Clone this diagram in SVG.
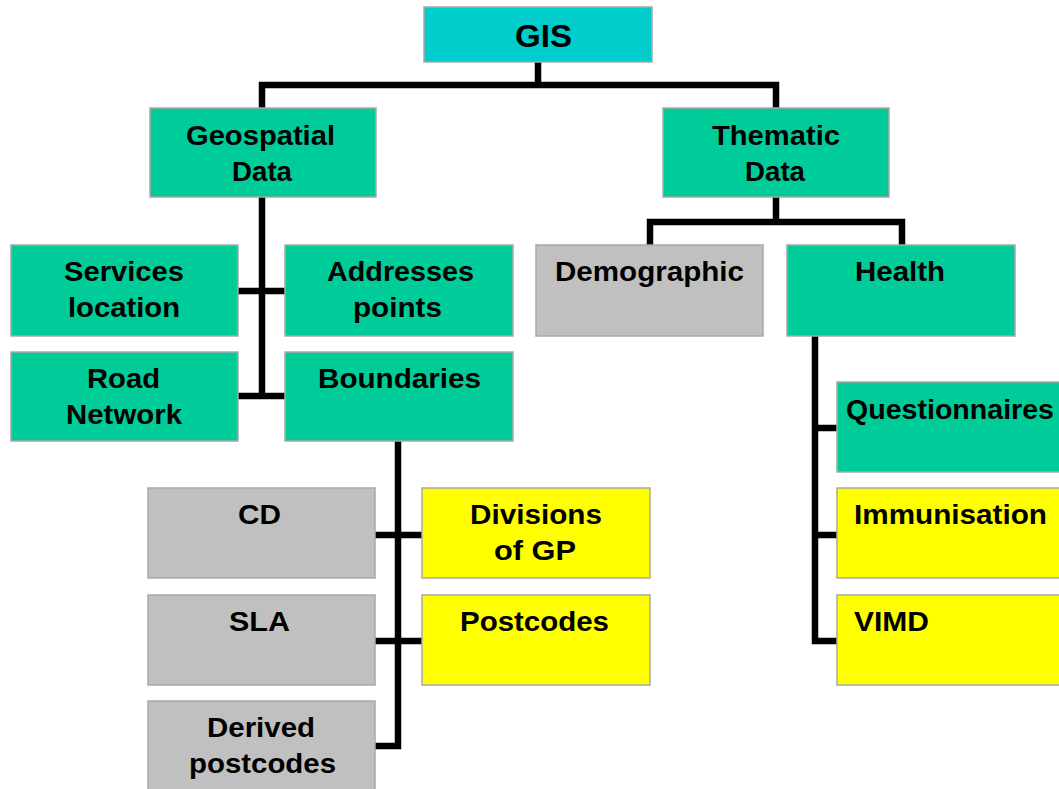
<svg xmlns="http://www.w3.org/2000/svg" width="1059" height="789" viewBox="0 0 1059 789">
<style>
.box{stroke:#a9a9a9;stroke-width:1.5}
.cyan{fill:#00CCCC}
.green{fill:#00CC99}
.gray{fill:#C0C0C0}
.yellow{fill:#FFFF00}
text{font-family:"Liberation Sans",Arial,sans-serif;font-weight:bold;font-size:28px;fill:#000}
.big{font-size:32px}
.conn{fill:none;stroke:#000;stroke-width:6.5;stroke-linecap:round;stroke-linejoin:miter}
</style>
<rect width="1059" height="789" fill="#fff"/>
<g id="connectors">
<path class="conn" d="M538 62V85M262 108V85H776V108"/>
<path class="conn" d="M262 197V396M238 291H285M238 396H285"/>
<path class="conn" d="M776 197V222M650 245V222H902V245"/>
<path class="conn" d="M398 441V746H375M375 535H422M375 641H422"/>
<path class="conn" d="M815 336V641H837M815 428H837M815 535H837"/>
</g>
<g id="gis"><rect class="box cyan" x="424" y="7" width="228" height="55"/><text class="big" x="515" y="47" textLength="57" lengthAdjust="spacingAndGlyphs">GIS</text></g>
<g id="geospatial"><rect class="box green" x="150" y="108" width="226" height="89"/><text x="186" y="145" textLength="149" lengthAdjust="spacingAndGlyphs">Geospatial</text><text x="232" y="181" textLength="60" lengthAdjust="spacingAndGlyphs">Data</text></g>
<g id="thematic"><rect class="box green" x="663" y="108" width="226" height="89"/><text x="712" y="145" textLength="128" lengthAdjust="spacingAndGlyphs">Thematic</text><text x="745" y="181" textLength="60" lengthAdjust="spacingAndGlyphs">Data</text></g>
<g id="services"><rect class="box green" x="11" y="245" width="227" height="91"/><text x="64" y="281" textLength="120" lengthAdjust="spacingAndGlyphs">Services</text><text x="68" y="317" textLength="112" lengthAdjust="spacingAndGlyphs">location</text></g>
<g id="addresses"><rect class="box green" x="285" y="245" width="228" height="91"/><text x="327" y="281" textLength="147" lengthAdjust="spacingAndGlyphs">Addresses</text><text x="353" y="317" textLength="89" lengthAdjust="spacingAndGlyphs">points</text></g>
<g id="demographic"><rect class="box gray" x="536" y="245" width="227" height="91"/><text x="555" y="281" textLength="189" lengthAdjust="spacingAndGlyphs">Demographic</text></g>
<g id="health"><rect class="box green" x="787" y="245" width="228" height="91"/><text x="855" y="281" textLength="90" lengthAdjust="spacingAndGlyphs">Health</text></g>
<g id="road"><rect class="box green" x="11" y="352" width="227" height="89"/><text x="87" y="388" textLength="73" lengthAdjust="spacingAndGlyphs">Road</text><text x="66" y="424" textLength="116" lengthAdjust="spacingAndGlyphs">Network</text></g>
<g id="boundaries"><rect class="box green" x="285" y="352" width="228" height="89"/><text x="318" y="388" textLength="163" lengthAdjust="spacingAndGlyphs">Boundaries</text></g>
<g id="cd"><rect class="box gray" x="148" y="488" width="227" height="90"/><text x="238" y="524" textLength="43" lengthAdjust="spacingAndGlyphs">CD</text></g>
<g id="divisions"><rect class="box yellow" x="422" y="488" width="228" height="90"/><text x="470" y="524" textLength="132" lengthAdjust="spacingAndGlyphs">Divisions</text><text x="494" y="560" textLength="82" lengthAdjust="spacingAndGlyphs">of GP</text></g>
<g id="sla"><rect class="box gray" x="148" y="595" width="227" height="90"/><text x="229" y="631" textLength="61" lengthAdjust="spacingAndGlyphs">SLA</text></g>
<g id="postcodes"><rect class="box yellow" x="422" y="595" width="228" height="90"/><text x="460" y="631" textLength="149" lengthAdjust="spacingAndGlyphs">Postcodes</text></g>
<g id="derived"><rect class="box gray" x="148" y="701" width="227" height="92"/><text x="207" y="737" textLength="108" lengthAdjust="spacingAndGlyphs">Derived</text><text x="189" y="773" textLength="147" lengthAdjust="spacingAndGlyphs">postcodes</text></g>
<g id="questionnaires"><rect class="box green" x="837" y="382" width="230" height="90"/><text x="846" y="419" textLength="208" lengthAdjust="spacingAndGlyphs">Questionnaires</text></g>
<g id="immunisation"><rect class="box yellow" x="837" y="488" width="230" height="90"/><text x="854" y="524" textLength="193" lengthAdjust="spacingAndGlyphs">Immunisation</text></g>
<g id="vimd"><rect class="box yellow" x="837" y="595" width="230" height="90"/><text x="854" y="631" textLength="75" lengthAdjust="spacingAndGlyphs">VIMD</text></g>
</svg>
